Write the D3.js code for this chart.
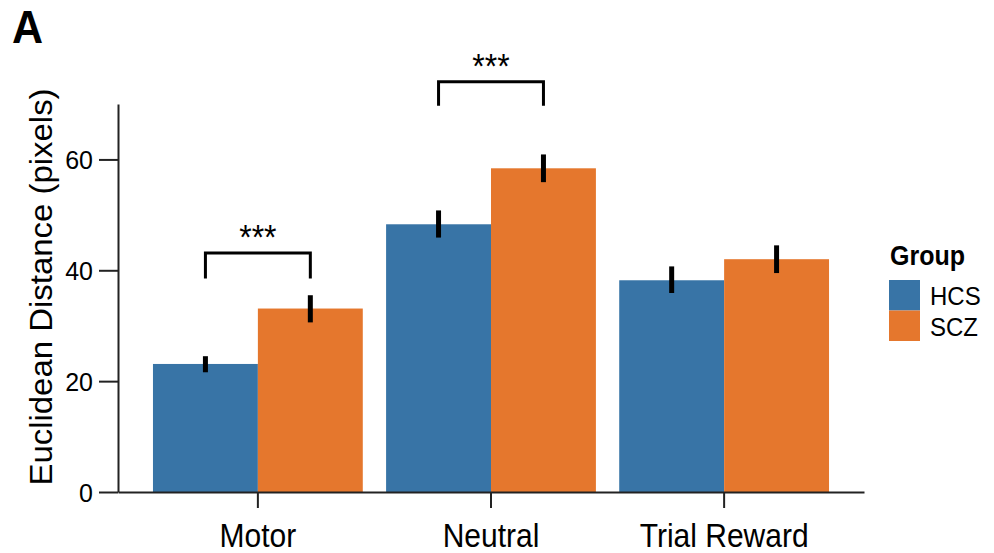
<!DOCTYPE html>
<html>
<head>
<meta charset="utf-8">
<script src="https://cdn.jsdelivr.net/npm/d3@7"></script>
<style>
  body { margin: 0; background: #fff; }
  text { font-family: "Liberation Sans", Arial, sans-serif; fill: #000; }
</style>
</head>
<body>
<svg id="graph"></svg>
<script>
const categories = ["Motor", "Neutral", "Trial Reward"];
const groups = ["HCS", "SCZ"];
const hcsMeans = [23.1, 48.3, 38.2];
const sczMeans = [33.1, 58.4, 42.0];
const hcsLow = [21.6, 45.9, 35.9];
const hcsHigh = [24.5, 50.8, 40.7];
const sczLow = [30.6, 55.9, 39.5];
const sczHigh = [35.5, 60.9, 44.5];
const yTicks = [0, 20, 40, 60];
// significance brackets: category, bar level, leg bottom
const sigCats = ["Motor", "Neutral"];
const sigLevels = [43.1, 74.0];
const sigLegs = [38.5, 69.7];
const sigLabels = ["***", "***"];

const width = 994, height = 553;
const margin = { top: 104, right: 130, bottom: 61, left: 118 };
const colors = { HCS: "#3874a6", SCZ: "#e5772d" };
const stretch = 1.08; // source figure is slightly taller than wide

const svg = d3.select("#graph")
  .attr("width", width)
  .attr("height", height);

const xScale = d3.scaleBand()
  .domain(categories)
  .range([margin.left, width - margin.right])
  .paddingInner(0.1)
  .paddingOuter(0.15);

const xSub = d3.scaleBand()
  .domain(groups)
  .range([0, xScale.bandwidth()]);

const yScale = d3.scaleLinear()
  .domain([0, 70])
  .range([height - margin.bottom, margin.top]);

const rows = categories.map((c, i) => [
  { cat: c, group: "HCS", mean: hcsMeans[i], lo: hcsLow[i], hi: hcsHigh[i] },
  { cat: c, group: "SCZ", mean: sczMeans[i], lo: sczLow[i], hi: sczHigh[i] }
]).flat();

// bars
svg.append("g").selectAll("rect")
  .data(rows)
  .join("rect")
  .attr("x", d => xScale(d.cat) + xSub(d.group))
  .attr("y", d => yScale(d.mean))
  .attr("width", xSub.bandwidth())
  .attr("height", d => yScale(0) - yScale(d.mean))
  .attr("fill", d => colors[d.group]);

// error bars
svg.append("g").selectAll("line")
  .data(rows)
  .join("line")
  .attr("x1", d => xScale(d.cat) + xSub(d.group) + xSub.bandwidth() / 2)
  .attr("x2", d => xScale(d.cat) + xSub(d.group) + xSub.bandwidth() / 2)
  .attr("y1", d => yScale(d.lo))
  .attr("y2", d => yScale(d.hi))
  .attr("stroke", "#000")
  .attr("stroke-width", 5);

// axes
const yAxis = d3.axisLeft(yScale).tickValues(yTicks).tickSize(19).tickSizeOuter(0).tickPadding(6);
const xAxis = d3.axisBottom(xScale).tickSize(16).tickSizeOuter(0).tickPadding(10);

const yAxisGroup = svg.append("g")
  .attr("transform", `translate(${margin.left},0)`)
  .call(yAxis);

const xAxisGroup = svg.append("g")
  .attr("transform", `translate(0,${height - margin.bottom})`)
  .call(xAxis);

[yAxisGroup, xAxisGroup].forEach(g => {
  g.select(".domain").attr("stroke", "#222").attr("stroke-width", 2);
  g.selectAll(".tick line").attr("stroke", "#222").attr("stroke-width", 2);
  g.selectAll("text").attr("fill", "#000").style("font-family", "Liberation Sans, Arial, sans-serif");
});

yAxisGroup.selectAll("text")
  .style("font-size", "25px")
  .attr("dy", null)
  .attr("dominant-baseline", "central");

xAxisGroup.selectAll("text")
  .style("font-size", "30px")
  .attr("dy", null)
  .attr("y", 0)
  .attr("transform", `translate(0,55) scale(1,${stretch})`);

// y label
svg.append("text")
  .attr("transform", `translate(52,287) scale(1,${stretch}) rotate(-90)`)
  .attr("text-anchor", "middle")
  .style("font-size", "30.5px")
  .text("Euclidean Distance (pixels)");

// panel letter
svg.append("text")
  .attr("transform", `translate(12,43) scale(1,${stretch})`)
  .style("font-size", "43px")
  .style("font-weight", "bold")
  .text("A");

// significance brackets
sigCats.forEach((c, i) => {
  const x1 = xScale(c) + xSub("HCS") + xSub.bandwidth() / 2;
  const x2 = xScale(c) + xSub("SCZ") + xSub.bandwidth() / 2;
  const yTop = yScale(sigLevels[i]);
  const yLeg = yScale(sigLegs[i]);
  svg.append("path")
    .attr("d", `M${x1},${yLeg}V${yTop}H${x2}V${yLeg}`)
    .attr("fill", "none")
    .attr("stroke", "#000")
    .attr("stroke-width", 3);
  svg.append("text")
    .attr("transform", `translate(${(x1 + x2) / 2},${yTop - 4}) scale(1,${stretch})`)
    .attr("text-anchor", "middle")
    .style("font-size", "32px")
    .text(sigLabels[i]);
});

// legend
const legend = svg.append("g").attr("transform", "translate(889,280)");
legend.append("text")
  .attr("transform", `translate(1,-15) scale(1,${stretch})`)
  .style("font-size", "25px")
  .style("font-weight", "bold")
  .text("Group");
legend.selectAll("rect")
  .data(groups)
  .join("rect")
  .attr("x", 0)
  .attr("y", (d, i) => i * 30.5)
  .attr("width", 31)
  .attr("height", 30.5)
  .attr("fill", d => colors[d]);
legend.selectAll("text.item")
  .data(groups)
  .join("text")
  .attr("class", "item")
  .attr("transform", (d, i) => `translate(41,${i * 30.5 + 25}) scale(1,${stretch})`)
  .style("font-size", "24px")
  .text(d => d);
</script>
</body>
</html>
